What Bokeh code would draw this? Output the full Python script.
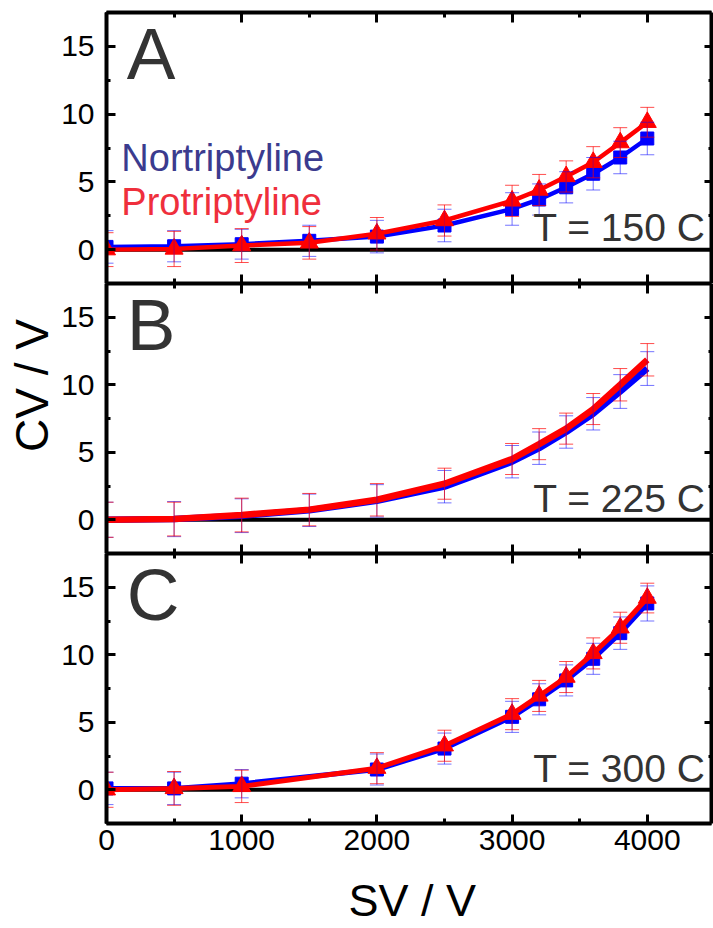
from bokeh.plotting import figure
from bokeh.models import (Range1d, LinearAxis, SingleIntervalTicker, Span, Label,
                          Whisker, TeeHead, ColumnDataSource)
from bokeh.layouts import column, row
from bokeh.embed import file_html
from bokeh.resources import INLINE

# ---------------- data ----------------
sv_A = [0, 500, 1000, 1500, 2000, 2500, 3000, 3200, 3400, 3600, 3800, 4000]
nor_A = [0.2, 0.25, 0.4, 0.65, 0.96, 1.78, 3.0, 3.7, 4.6, 5.6, 6.8, 8.2]
nor_A_err = [1.2, 1.15, 1.1, 1.15, 1.2, 1.2, 1.2, 1.15, 1.15, 1.2, 1.2, 1.2]
pro_A = [0.0, 0.05, 0.3, 0.5, 1.17, 2.15, 3.6, 4.4, 5.4, 6.45, 7.9, 9.4]
pro_A_err = [1.25, 1.3, 1.25, 1.2, 1.2, 1.15, 1.15, 1.15, 1.15, 1.15, 1.1, 1.1]

sv_B = [0, 500, 1000, 1500, 2000, 2500, 3000, 3200, 3400, 3600, 3800, 4000]
nor_B = [0.0, 0.05, 0.3, 0.7, 1.4, 2.45, 4.3, 5.3, 6.5, 7.85, 9.5, 11.2]
nor_B_err = [1.3, 1.3, 1.25, 1.2, 1.2, 1.2, 1.2, 1.2, 1.2, 1.2, 1.25, 1.25]
pro_B = [0.0, 0.05, 0.35, 0.75, 1.48, 2.67, 4.5, 5.6, 6.75, 8.2, 10.0, 11.85]
pro_B_err = [1.3, 1.25, 1.25, 1.2, 1.2, 1.15, 1.15, 1.15, 1.15, 1.15, 1.2, 1.2]

sv_C = [0, 500, 1000, 2000, 2500, 3000, 3200, 3400, 3600, 3800, 4000]
nor_C = [0.1, 0.1, 0.45, 1.5, 3.05, 5.4, 6.7, 8.1, 9.7, 11.6, 13.8]
nor_C_err = [1.2, 1.2, 1.05, 1.15, 1.15, 1.15, 1.15, 1.15, 1.15, 1.2, 1.3]
pro_C = [0.0, 0.1, 0.25, 1.6, 3.26, 5.6, 6.95, 8.35, 10.1, 12.0, 14.2]
pro_C_err = [1.3, 1.25, 1.2, 1.15, 1.15, 1.15, 1.15, 1.15, 1.15, 1.15, 1.1]

panel_letters = ["A", "B", "C"]
temperatures = ["T = 150 C", "T = 225 C", "T = 300 C"]
series_names = ["Nortriptyline", "Protriptyline"]
x_title = "SV / V"
y_title = "CV / V"
x_ticks_interval = 1000
y_ticks_interval = 5

FONT = "Liberation Sans"
BLUE = "#0000ff"
RED = "#ff0000"

x_range = Range1d(0, 4475)


def make_panel(height, top, bottom, show_x_labels):
    p = figure(width=655, height=height, output_backend="svg", toolbar_location=None,
               x_range=x_range, y_range=Range1d(-2.5, 17.5),
               x_axis_location=None, y_axis_location=None,
               min_border_left=46, min_border_right=2,
               min_border_top=top, min_border_bottom=bottom)
    p.outline_line_color = None
    p.background_fill_color = "white"
    p.border_fill_color = "white"

    def style(ax, tick_in, minor_in, labels):
        ax.axis_line_width = 4
        ax.axis_line_color = "black"
        ax.major_tick_line_width = 3
        ax.minor_tick_line_width = 3
        ax.major_tick_in = tick_in
        ax.major_tick_out = 0
        ax.minor_tick_in = minor_in
        ax.minor_tick_out = 0
        if labels:
            ax.major_label_text_font = FONT
            ax.major_label_text_font_size = "30px"
            ax.major_label_text_color = "black"
        else:
            ax.major_label_text_font_size = "0px"
            ax.major_label_text_color = None
            ax.major_label_standoff = 0

    left = LinearAxis(ticker=SingleIntervalTicker(interval=y_ticks_interval, num_minor_ticks=2))
    style(left, 9, 4, True)
    left.major_label_standoff = 12
    p.add_layout(left, "left")

    right = LinearAxis(ticker=SingleIntervalTicker(interval=y_ticks_interval, num_minor_ticks=2))
    style(right, 7, 3, False)
    p.add_layout(right, "right")

    above = LinearAxis(ticker=SingleIntervalTicker(interval=x_ticks_interval, num_minor_ticks=2))
    style(above, 10, 5, False)
    p.add_layout(above, "above")

    below = LinearAxis(ticker=SingleIntervalTicker(interval=x_ticks_interval, num_minor_ticks=2))
    style(below, 9, 5, show_x_labels)
    if show_x_labels:
        below.major_label_standoff = 6
    p.add_layout(below, "below")

    p.xgrid.visible = False
    p.ygrid.visible = False

    p.add_layout(Span(location=0, dimension="width", line_color="black",
                      line_width=4, level="underlay"))
    return p


def add_series(p, xs, ys, errs, color, marker, msize, lw, whisk_alpha, show_markers):
    src = ColumnDataSource(dict(x=xs, y=ys,
                                upper=[a + b for a, b in zip(ys, errs)],
                                lower=[a - b for a, b in zip(ys, errs)]))
    p.line("x", "y", source=src, line_color=color, line_width=lw)
    if show_markers:
        p.scatter("x", "y", source=src, marker=marker, size=msize,
                  fill_color=color, line_color=color)
    w = Whisker(base="x", upper="upper", lower="lower", source=src,
                line_color=color, line_alpha=whisk_alpha, line_width=1, level="glyph",
                upper_head=TeeHead(size=14, line_color=color, line_alpha=whisk_alpha, line_width=1),
                lower_head=TeeHead(size=14, line_color=color, line_alpha=whisk_alpha, line_width=1))
    p.add_layout(w)


def add_texts(p, letter, temp):
    p.add_layout(Label(x=150, y=14.5, text=letter, text_font=FONT, text_font_size="73px",
                       text_color="#333333", text_baseline="alphabetic", text_align="left"))
    p.add_layout(Label(x=4431, y=1.6, text=temp, text_font=FONT, text_font_size="39px",
                       text_color="#333333", text_baseline="alphabetic", text_align="right"))


def make_strip(width, height):
    s = figure(width=width, height=height, output_backend="svg", toolbar_location=None,
               x_range=Range1d(0, width), y_range=Range1d(0, height),
               x_axis_location=None, y_axis_location=None,
               min_border_left=0, min_border_right=0, min_border_top=0, min_border_bottom=0)
    s.outline_line_color = None
    s.xgrid.visible = False
    s.ygrid.visible = False
    s.background_fill_color = "white"
    s.border_fill_color = "white"
    return s


pA = make_panel(283, 12, 0, False)
add_series(pA, sv_A, nor_A, nor_A_err, BLUE, "square", 13, 4.5, 0.55, True)
add_series(pA, sv_A, pro_A, pro_A_err, RED, "triangle", 18, 4.5, 0.7, True)
add_texts(pA, panel_letters[0], temperatures[0])
pA.add_layout(Label(x=110, y=6.74, text=series_names[0], text_font=FONT, text_font_size="38px",
                    text_color="#3b3b8e", text_baseline="alphabetic"))
pA.add_layout(Label(x=110, y=3.49, text=series_names[1], text_font=FONT, text_font_size="38px",
                    text_color="#ef2f3c", text_baseline="alphabetic"))

pB = make_panel(270, 0, 0, False)
add_series(pB, sv_B, nor_B, nor_B_err, BLUE, "square", 13, 6.5, 0.55, False)
add_series(pB, sv_B, pro_B, pro_B_err, RED, "triangle", 18, 6.5, 0.7, False)
add_texts(pB, panel_letters[1], temperatures[1])

pC = make_panel(320, 0, 50, True)
add_series(pC, sv_C, nor_C, nor_C_err, BLUE, "square", 13, 5, 0.55, True)
add_series(pC, sv_C, pro_C, pro_C_err, RED, "triangle", 18, 5, 0.7, True)
add_texts(pC, panel_letters[2], temperatures[2])

# x-axis title strip (below the panels)
xs = make_strip(655, 55)
xs.add_layout(Label(x=331, y=28, text=x_title, text_font=FONT, text_font_size="45px",
                    text_color="black", text_align="center", text_baseline="alphabetic"))

# y-axis title strip (left of the panels)
ys = make_strip(58, 928)
ys.add_layout(Label(x=31.6, y=543, text=y_title, angle=90, angle_units="deg",
                    text_font=FONT, text_font_size="46px", text_color="black",
                    text_align="center", text_baseline="alphabetic"))

layout = row(ys, column(pA, pB, pC, xs, spacing=0), spacing=0)

open("out.html", "w").write(file_html(layout, INLINE))
